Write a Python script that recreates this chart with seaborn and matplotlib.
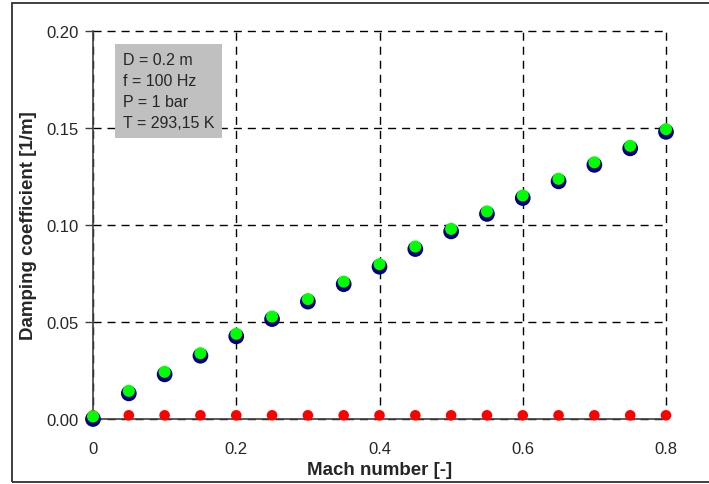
import matplotlib
matplotlib.use("Agg")
import matplotlib.pyplot as plt
import seaborn as sns
import pandas as pd
import numpy as np

mach = [0.0, 0.05, 0.10, 0.15, 0.20, 0.25, 0.30, 0.35, 0.40, 0.45, 0.50,
        0.55, 0.60, 0.65, 0.70, 0.75, 0.80]
damp_main = [0.0000, 0.0132, 0.0230, 0.0326, 0.0426, 0.0515, 0.0605, 0.0695,
             0.0785, 0.0876, 0.0967, 0.1057, 0.1139, 0.1225, 0.1310, 0.1395, 0.1480]
damp_const = [0.0019] * len(mach)
damp_total = [0.0013, 0.0145, 0.0243, 0.0339, 0.0439, 0.0528, 0.0618, 0.0708,
              0.0798, 0.0889, 0.0980, 0.1070, 0.1152, 0.1238, 0.1323, 0.1408, 0.1494]

x_ticks = [0, 0.2, 0.4, 0.6, 0.8]
x_ticklabels = ["0", "0.2", "0.4", "0.6", "0.8"]
y_ticks = [0.00, 0.05, 0.10, 0.15, 0.20]
y_ticklabels = ["0.00", "0.05", "0.10", "0.15", "0.20"]
info_lines = ["D = 0.2 m", "f = 100 Hz", "P = 1 bar", "T = 293,15 K"]

sns.set_theme(style="white")
plt.rcParams['font.family'] = ['Liberation Sans', 'DejaVu Sans']

df = pd.DataFrame({"mach": mach, "main": damp_main, "const": damp_const, "total": damp_total})

fig = plt.figure(figsize=(7.09, 4.85), dpi=100)
ax = fig.add_axes([93/709, 65/485, 573/709, 388/485])

sns.scatterplot(data=df, x="mach", y="main", ax=ax, s=128, color="#000080",
                edgecolor="none", clip_on=False, zorder=3)
sns.scatterplot(data=df, x="mach", y="const", ax=ax, s=58, color="#FF0000",
                edgecolor="none", clip_on=False, zorder=4)
sns.scatterplot(data=df, x="mach", y="total", ax=ax, s=75, color="#00FF00",
                edgecolor="none", clip_on=False, zorder=5)

ax.set_xlim(0, 0.8)
ax.set_ylim(0, 0.2)
ax.set_xticks(x_ticks)
ax.set_xticklabels(x_ticklabels)
ax.set_yticks(y_ticks)
ax.set_yticklabels(y_ticklabels)

ax.grid(True, color="black", linestyle=(0, (5.8, 4.3)), linewidth=1.0)
for gl in ax.get_xgridlines() + ax.get_ygridlines():
    gl.set_clip_on(False)
for s in ["top", "right"]:
    ax.spines[s].set_visible(False)
for s in ["left", "bottom"]:
    ax.spines[s].set_color("#404040")
    ax.spines[s].set_linewidth(1.2)

ax.tick_params(axis="y", which="major", direction="out", length=6, width=1,
               color="#404040", labelsize=12, left=True, pad=4)
ax.tick_params(axis="x", which="major", length=0, labelsize=12, pad=15.5)

ax.set_xlabel("Mach number [-]", fontsize=13.5, fontweight="bold", labelpad=4)
ax.set_ylabel("Damping coefficient [1/m]", fontsize=13.5, fontweight="bold", labelpad=7)

ax.text(0.052, 0.945, "\n".join(info_lines), transform=ax.transAxes,
        fontsize=11.5, va="top", ha="left", linespacing=1.5, zorder=6,
        bbox=dict(boxstyle="square,pad=0.5", facecolor="#C0C0C0", edgecolor="none"))

fig.patches.append(plt.Rectangle((12/709, 2/485), 720/709, 479/485,
                                 transform=fig.transFigure, fill=False,
                                 edgecolor="#303030", linewidth=1.3))

fig.savefig("out.png", dpi=100)
